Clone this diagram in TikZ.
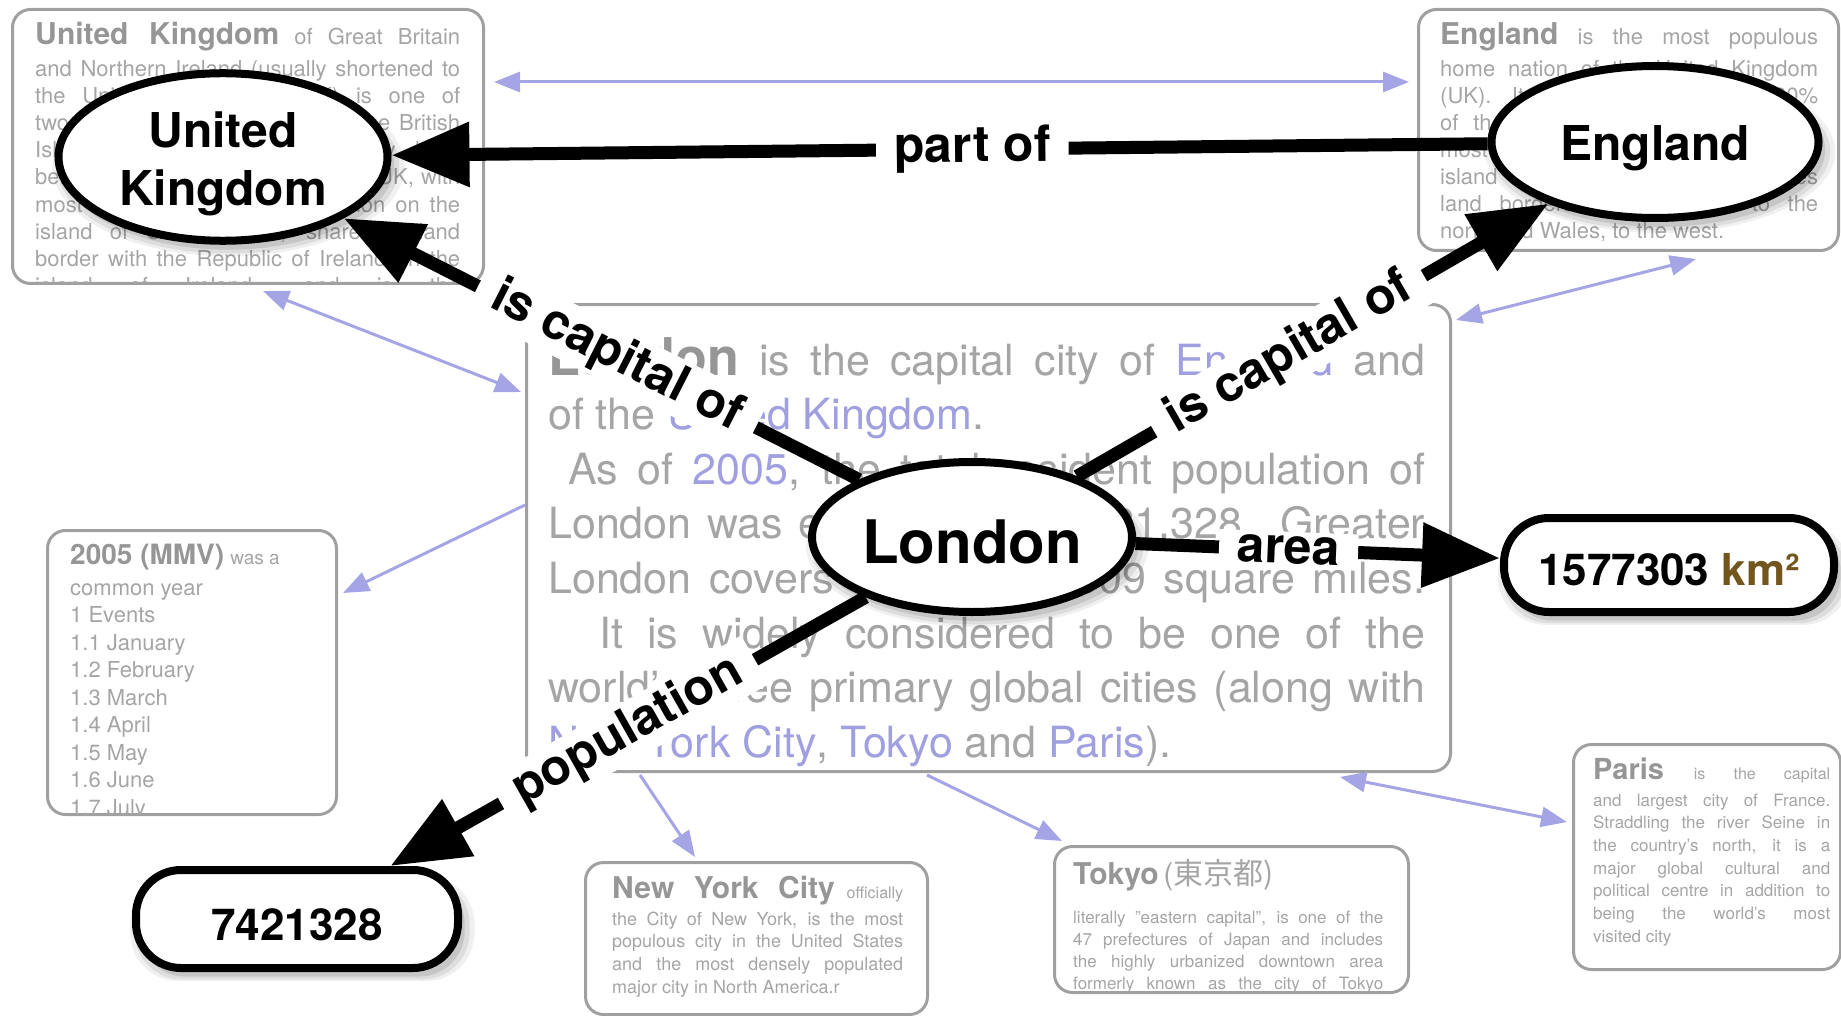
\documentclass[tikz,border=0pt]{standalone}
\usepackage{fontspec}
\setmainfont{TeX Gyre Heros}
\newfontfamily\cjk{Noto Sans CJK JP}
\usetikzlibrary{arrows.meta,shapes.geometric,shadows,calc}

\definecolor{boxgray}{RGB}{160,160,160}
\definecolor{textgray}{RGB}{165,165,165}
\definecolor{headgray}{RGB}{150,150,150}
\definecolor{linkblue}{RGB}{160,160,225}
\definecolor{lav}{RGB}{165,165,230}
\definecolor{kmbrown}{RGB}{115,85,30}

% one justified line of a wiki page
\newcommand{\jl}[1]{\makebox[\linewidth][s]{#1}}
\newcommand{\lk}[1]{{\color{linkblue}#1}}
\newcommand{\hd}[2]{\leavevmode{\fontsize{#1}{#1}\selectfont\bfseries\color{headgray}#2}}
\newcommand{\sz}[2]{{\fontsize{#1}{#1}\selectfont #2}}

\tikzset{
  wikibox/.style={draw=boxgray, line width=3pt, rounded corners=18pt, anchor=north west, inner sep=0pt},
  body/.style={anchor=base west, inner sep=0pt, text=textgray},
  bglink/.style={draw=lav, line width=3pt, {Triangle[length=26pt,width=20pt]}-{Triangle[length=26pt,width=20pt]}},
  bgto/.style={draw=lav, line width=3pt, -{Triangle[length=26pt,width=20pt]}},
  softshadow/.style={
    drop shadow={shadow xshift=5pt, shadow yshift=-9pt, shadow scale=1.07, opacity=.06, fill=black},
    drop shadow={shadow xshift=5pt, shadow yshift=-9pt, shadow scale=1.04, opacity=.08, fill=black},
    drop shadow={shadow xshift=5pt, shadow yshift=-8pt, shadow scale=1.01, opacity=.1, fill=black}},
  concept/.style={ellipse, draw, line width=8pt, fill=white, inner sep=0pt, align=center,
    font=\fontsize{48}{58}\selectfont\bfseries, softshadow},
  value/.style={rectangle, rounded corners=45pt, draw, line width=8pt, fill=white, inner sep=0pt,
    font=\fontsize{44}{44}\selectfont\bfseries, softshadow},
  conn/.style={line width=13pt, -{Triangle[length=78pt,width=62pt]}},
  rel/.style={fill=white, inner xsep=18pt, inner ysep=4pt, sloped, font=\fontsize{50}{50}\selectfont\bfseries},
}

\begin{document}
\begin{tikzpicture}[x=1pt, y=-1pt]
\useasboundingbox (0,0) rectangle (1841,1016);

% wiki pages in the background
\node[wikibox, minimum width=471pt, minimum height=274pt] (ukbox) at (11,8) {};
\node[wikibox, minimum width=420pt, minimum height=241pt] (engbox) at (1417,8) {};
\node[wikibox, minimum width=924pt, minimum height=467pt] (lonbox) at (525,303) {};
\node[wikibox, minimum width=289pt, minimum height=284pt] (yearbox) at (46,529) {};
\node[wikibox, minimum width=342pt, minimum height=152pt] (nycbox) at (584,861) {};
\node[wikibox, minimum width=354pt, minimum height=146pt] (tokyobox) at (1053,845) {};
\node[wikibox, minimum width=267pt, minimum height=225pt] (parisbox) at (1572,743) {};

\begin{scope}
\clip ([shift={(2pt,-2pt)}]ukbox.north west) rectangle ([shift={(-2pt,2pt)}]ukbox.south east);
\node[body] (ukbody) at (35,45) {\parbox[t]{425pt}{\fontsize{22}{27.2}\selectfont
\jl{\hd{30}{United Kingdom} of Great Britain}\\[4pt]
\jl{and Northern Ireland (usually shortened to}\\
\jl{the United Kingdom or UK) is one of}\\
\jl{two sovereign states located on the British}\\
\jl{Isles. It is an island country lying}\\
\jl{between Europe and Ireland. The UK, with}\\
\jl{most of its territory and population on the}\\
\jl{island of Great Britain, shares a land}\\
\jl{border with the Republic of Ireland on the}\\
\jl{island of Ireland, and is the}}};
\end{scope}

\node[body] (engbody) at (1440,45) {\parbox[t]{378pt}{\fontsize{22}{27}\selectfont
\jl{\hd{30}{England} is the most populous}\\[5pt]
\jl{home nation of the United Kingdom}\\
\jl{(UK). It accounts for about 80\%}\\
\jl{of the population and occupies the}\\
\jl{most of the southern two-thirds of the}\\
\jl{island of Great Britain. It shares}\\
\jl{land borders with Scotland to the}\\
north and Wales, to the west.}};

\node[body] (lonbody) at (548,375) {\parbox[t]{877pt}{\fontsize{43}{54.6}\selectfont
\jl{\hd{52}{London} is the capital city of \lk{England} and}\\
of the \lk{United Kingdom}.\\
\jl{\hspace*{20pt}As of \lk{2005}, the total resident population of}\\
\jl{London was estimated at 7,421,328. Greater}\\
\jl{London covers an area of 609 square miles.}\\
\jl{\hspace*{51pt}It is widely considered to be one of the}\\
\jl{world's three primary global cities (along with}\\
\lk{New York City}, \lk{Tokyo} and \lk{Paris}).}};

\begin{scope}
\clip ([shift={(2pt,-2pt)}]yearbox.north west) rectangle ([shift={(-2pt,2pt)}]yearbox.south east);
\node[body] (yearbody) at (70,564) {\parbox[t]{255pt}{\fontsize{22}{27.5}\selectfont
\hd{28}{2005 (MMV)} \sz{19}{was a}\\[3.5pt]
common year\\
1 Events\\
1.1 January\\
1.2 February\\
1.3 March\\
1.4 April\\
1.5 May\\
1.6 June\\
1.7 July}};
\end{scope}

\node[body] (nycbody) at (612,898) {\parbox[t]{291pt}{\fontsize{18}{22.7}\selectfont
\jl{\hd{30}{New York City} \sz{16}{officially}}\\[4.3pt]
\jl{the City of New York, is the most}\\
\jl{populous city in the United States}\\
\jl{and the most densely populated}\\
major city in North America.r}};

\begin{scope}
\clip ([shift={(2pt,-2pt)}]tokyobox.north west) rectangle ([shift={(-2pt,2pt)}]tokyobox.south east);
\node[body] (tokyobody) at (1073,884) {\parbox[t]{310pt}{\fontsize{17}{22.3}\selectfont
\hd{30}{Tokyo} \sz{30}{(\cjk 東京都\/)}\\[16.7pt]
\jl{literally "eastern capital", is one of the}\\
\jl{47 prefectures of Japan and includes}\\
\jl{the highly urbanized downtown area}\\
\jl{formerly known as the city of Tokyo}}};
\end{scope}

\node[body] (parisbody) at (1593,779) {\parbox[t]{237pt}{\fontsize{17}{22.7}\selectfont
\jl{\hd{29}{Paris} \sz{16}{is the capital}}\\[4.3pt]
\jl{and largest city of France.}\\
\jl{Straddling the river Seine in}\\
\jl{the country's north, it is a}\\
\jl{major global cultural and}\\
\jl{political centre in addition to}\\
\jl{being the world's most}\\
visited city}};

% links between the pages
\draw[bglink] ($(ukbox.north east)+(9,74)$) -- ($(engbox.north west)+(-8,74)$);
\draw[bglink] ($(ukbox.south west)+(252,6)$) -- ($(lonbox.north west)+(-4,89)$);
\draw[bglink] ($(engbox.south west)+(279,7)$) -- ($(lonbox.north east)+(4,17)$);
\draw[bgto] ($(lonbox.north west)+(0,202)$) -- ($(yearbox.north east)+(5,64)$);
\draw[bgto] ($(lonbox.south west)+(115,2)$) -- ($(nycbox.north west)+(111,-4)$);
\draw[bgto] ($(lonbox.south west)+(402,2)$) -- ($(tokyobox.north west)+(9,-4)$);
\draw[bglink] ($(lonbox.south east)+(-112,4)$) -- ($(parisbox.north west)+(-5,79)$);

% concepts and values
\node[concept, minimum width=329pt, minimum height=153pt] (uk) at (223,157) {\rule{0pt}{50pt}United\\Kingdom};
\node[concept, minimum width=327pt, minimum height=152pt] (eng) at (1655,142) {\rule{0pt}{47pt}England};
\node[concept, minimum width=320pt, minimum height=150pt, font=\fontsize{60}{60}\selectfont\bfseries] (lon) at (972,537) {\rule{0pt}{53pt}London};
\node[value, minimum width=322pt, minimum height=98pt] (pop) at (297,919) {\rule{0pt}{44pt}7421328};
\node[value, minimum width=330pt, minimum height=94pt] (km) at (1669,565) {\rule{0pt}{41pt}1577303 \textcolor{kmbrown}{km²}};

\path[conn]
  (eng) edge node[rel, pos=.47] {part of} (uk)
  (lon) edge node[rel, pos=.47] {is capital of} (uk)
        edge node[rel, pos=.45] {is capital of} (eng)
        edge node[rel, pos=.42] {area} (km)
        edge node[rel, pos=.5] {population} (pop);

\end{tikzpicture}
\end{document}
